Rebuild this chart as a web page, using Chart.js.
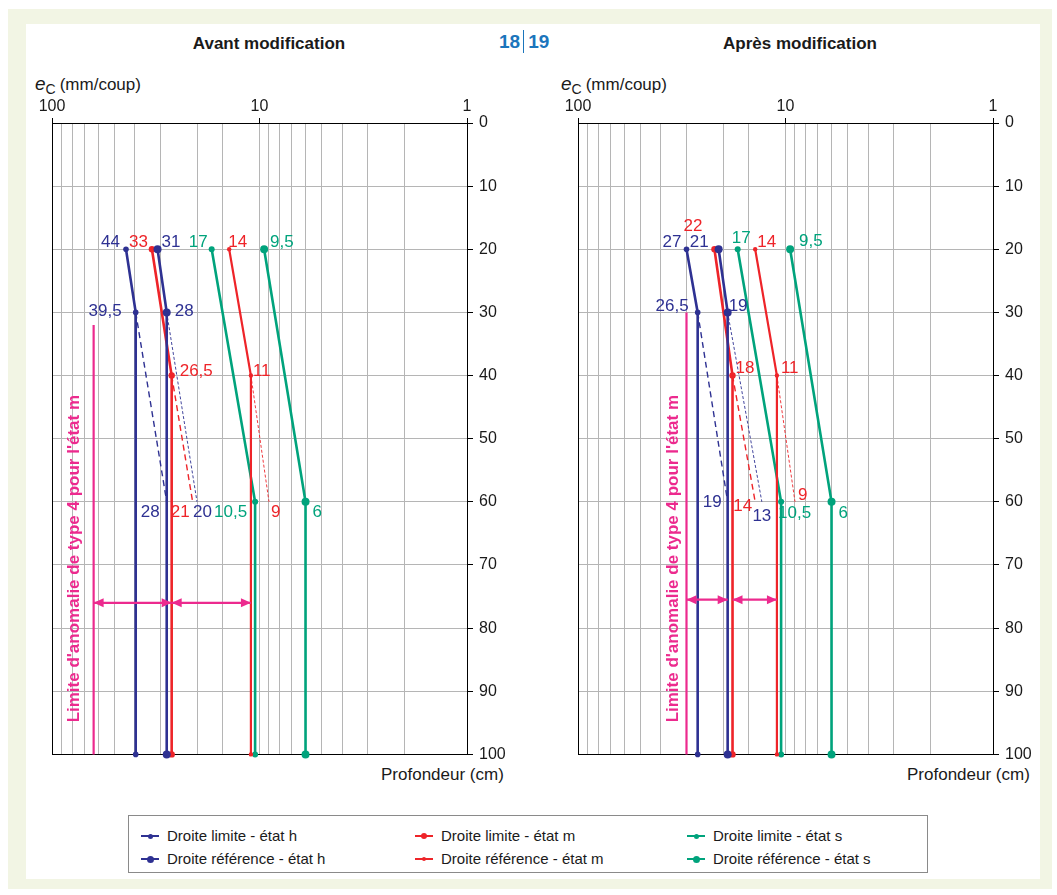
<!DOCTYPE html>
<html lang="fr">
<head>
<meta charset="utf-8">
<title>Avant / Après modification</title>
<script src="https://cdn.jsdelivr.net/npm/chart.js@4.4.1/dist/chart.umd.min.js"></script>
<style>
  body { margin: 0; width: 1057px; height: 895px; background: #fff; position: relative; overflow: hidden;
         font-family: "Liberation Sans", Arial, sans-serif; color: #1a1a1a; }
  #frame { position: absolute; left: 8px; top: 9px; width: 1044px; height: 880px; background: #f2f5e4; }
  #panel { position: absolute; left: 26px; top: 24px; width: 1014px; height: 855px; background: #fff; }
  .abs { position: absolute; white-space: nowrap; }
  .title { font-weight: bold; font-size: 17px; width: 260px; text-align: center; top: 34px; line-height: 20px; }
  .pages { left: 499px; top: 30px; font-weight: bold; font-size: 19px; color: #1b75bc; line-height: 20px; }
  .pages span.bar { display: inline-block; width: 1px; height: 23px; background: #1b75bc; vertical-align: -5px; margin: 0 4px 0 3px; }
  .unit { font-size: 17px; line-height: 20px; }
  .unit i { font-size: 19px; }
  .unit sub { font-size: 14px; vertical-align: -4px; margin-right: 4px; }
  canvas { position: absolute; }
  #legend { position: absolute; left: 128px; top: 815px; width: 798px; height: 56px; border: 1px solid #8a8a8a; background: #fff; }
  .item { position: absolute; font-size: 15px; line-height: 16px; }
  .mark { position: absolute; left: 0; top: 7px; width: 18px; height: 2px; }
  .dot { position: absolute; border-radius: 50%; }
  .item .txt { position: absolute; left: 26px; top: 0; white-space: nowrap; }
</style>
</head>
<body>
<div id="frame"></div>
<div id="panel"></div>

<div class="abs title" style="left:139px">Avant modification</div>
<div class="abs title" style="left:670px">Après modification</div>
<div class="abs pages">18<span class="bar"></span>19</div>

<div class="abs unit" style="left:35px; top:74px"><i>e</i><sub>C</sub>(mm/coup)</div>
<div class="abs unit" style="left:561px; top:74px"><i>e</i><sub>C</sub>(mm/coup)</div>
<div class="abs unit" style="left:381px; top:765px">Profondeur (cm)</div>
<div class="abs unit" style="left:907px; top:765px">Profondeur (cm)</div>

<canvas id="avant" width="510" height="683" style="left:12px; top:87px"></canvas>
<canvas id="apres" width="510" height="683" style="left:538px; top:87px"></canvas>

<div id="legend"></div>

<script>
// depths (cm) for each kind of line
const depthsH = [20, 30, 100];
const depthsM = [20, 40, 100];
const depthsS = [20, 60, 100];
const extDepthsH = [30, 60];
const extDepthsM = [40, 60];

// Avant modification (e_c in mm/coup)
const avantHLimite = [44, 39.5, 39.5];
const avantHReference = [31, 28, 28];
const avantMLimite = [33, 26.5, 26.5];
const avantMReference = [14, 11, 11];
const avantSLimite = [17, 10.5, 10.5];
const avantSReference = [9.5, 6, 6];
const avantHLimiteExt = [39.5, 28];
const avantHReferenceExt = [28, 20];
const avantMLimiteExt = [26.5, 21];
const avantMReferenceExt = [11, 9];
const avantLimite4 = 63;
const avantLimite4Depths = [32, 100];
const avantArrows = [[63, 26.5], [26.5, 11]];
const avantArrowDepth = 76;

// Après modification
const apresHLimite = [30, 26.5, 26.5];
const apresHReference = [21, 19, 19];
const apresMLimite = [22, 18, 18];
const apresMReference = [14, 11, 11];
const apresSLimite = [17, 10.5, 10.5];
const apresSReference = [9.5, 6, 6];
const apresHLimiteExt = [26.5, 19];
const apresHReferenceExt = [19, 13];
const apresMLimiteExt = [18, 14];
const apresMReferenceExt = [11, 9];
const apresLimite4 = 30;
const apresLimite4Depths = [30, 100];
const apresArrows = [[30, 19], [18, 11]];
const apresArrowDepth = 75.5;

// value annotations: text, value, depth
const avantLabels = [
  ['44', 44, 20], ['33', 33, 20], ['31', 31, 20], ['17', 17, 20], ['14', 14, 20], ['9,5', 9.5, 20],
  ['39,5', 39.5, 30], ['28', 28, 30], ['26,5', 26.5, 40], ['11', 11, 40],
  ['28', 28, 60], ['21', 21, 60], ['20', 20, 60], ['10,5', 10.5, 60], ['9', 9, 60], ['6', 6, 60]
];
const apresLabels = [
  ['27', 30, 20], ['22', 22, 20], ['21', 21, 20], ['17', 17, 20], ['14', 14, 20], ['9,5', 9.5, 20],
  ['26,5', 26.5, 30], ['19', 19, 30], ['18', 18, 40], ['11', 11, 40],
  ['19', 19, 60], ['14', 14, 60], ['13', 13, 60], ['9', 9, 60], ['10,5', 10.5, 60], ['6', 6, 60]
];

const limiteText = "Limite d'anomalie de type 4 pour l'état m";

// styles
const BLUE = '#2e3192', RED = '#ee2429', GREEN = '#00a37c', MAGENTA = '#ec2a8e';
const FONT = '"Liberation Sans", Arial, sans-serif';

// label placement: series colour, align, dx, dy (same order as label arrays)
const avantLabelStyle = [
  [BLUE, 'right', -6, -7], [RED, 'right', -4, -7], [BLUE, 'left', 4, -7], [GREEN, 'right', -4, -7], [RED, 'left', -1, -7], [GREEN, 'left', 6, -7],
  [BLUE, 'right', -14, -1], [BLUE, 'left', 8, -1], [RED, 'left', 8, -4], [RED, 'left', 2, -4],
  [BLUE, 'right', -7, 10], [RED, 'right', -3, 10], [BLUE, 'left', -4, 10], [GREEN, 'right', -8, 10], [RED, 'left', 2, 10], [GREEN, 'left', 7, 10]
];
const apresLabelStyle = [
  [BLUE, 'right', -5, -7], [RED, 'right', -12, -23], [BLUE, 'right', -10, -7], [GREEN, 'left', -6, -11], [RED, 'left', 2, -7], [GREEN, 'left', 9, -8],
  [BLUE, 'right', -9, -6], [BLUE, 'left', 1, -6], [RED, 'left', 3, -7], [RED, 'left', 4, -7],
  [BLUE, 'right', -6, 0], [RED, 'right', -3, 4], [BLUE, 'center', 0, 14], [RED, 'left', 3, -7], [GREEN, 'left', -3, 11], [GREEN, 'left', 7, 11]
];

const legendItems = [
  ['Droite limite - état h', BLUE, 2.5], ['Droite limite - état m', RED, 3], ['Droite limite - état s', GREEN, 2.5],
  ['Droite référence - état h', BLUE, 3.5], ['Droite référence - état m', RED, 2], ['Droite référence - état s', GREEN, 3.5]
];

function pts(values, depths) {
  return values.map((v, i) => ({ x: v, y: depths[i] }));
}

function solid(values, depths, color, radius, width) {
  return {
    data: pts(values, depths), borderColor: color, backgroundColor: color,
    borderWidth: width || 2.6, pointRadius: radius, pointBackgroundColor: color,
    pointBorderWidth: 0, clip: false
  };
}

function dashed(values, depths, color, thin) {
  return {
    data: pts(values, depths), borderColor: color, borderWidth: thin ? 0.9 : 1.4,
    borderDash: thin ? [3, 2] : [6, 4], pointRadius: 0, clip: false
  };
}

function arrow(pair, depth) {
  return {
    data: pts(pair, [depth, depth]), borderColor: MAGENTA, borderWidth: 2.2,
    pointRadius: 0, arrow: true
  };
}

function isMajor(v) {
  const l = Math.log10(v);
  return Math.abs(l - Math.round(l)) < 1e-9;
}

// plot frame on all four sides
const framePlugin = {
  id: 'frame',
  beforeDatasetsDraw(chart) {
    const a = chart.chartArea, ctx = chart.ctx;
    ctx.save();
    ctx.strokeStyle = '#000';
    ctx.lineWidth = 1;
    ctx.strokeRect(Math.round(a.left) + 0.5, Math.round(a.top) + 0.5, Math.round(a.right - a.left), Math.round(a.bottom - a.top));
    ctx.restore();
  }
};

function drawHead(ctx, tip, from) {
  const ang = Math.atan2(tip.y - from.y, tip.x - from.x);
  const len = 10, half = 4.5;
  const bx = tip.x - len * Math.cos(ang), by = tip.y - len * Math.sin(ang);
  ctx.beginPath();
  ctx.moveTo(tip.x, tip.y);
  ctx.lineTo(bx + half * Math.sin(ang), by - half * Math.cos(ang));
  ctx.lineTo(bx - half * Math.sin(ang), by + half * Math.cos(ang));
  ctx.closePath();
  ctx.fill();
}

const annotationPlugin = {
  id: 'annotations',
  afterDatasetsDraw(chart, args, opts) {
    const ctx = chart.ctx, xs = chart.scales.x, ys = chart.scales.y;
    ctx.save();

    // arrow heads
    ctx.fillStyle = MAGENTA;
    chart.data.datasets.forEach((ds, i) => {
      if (!ds.arrow) return;
      const p = chart.getDatasetMeta(i).data;
      drawHead(ctx, p[0], p[1]);
      drawHead(ctx, p[1], p[0]);
    });

    // rotated magenta text
    ctx.font = 'bold 17px ' + FONT;
    ctx.textAlign = 'center';
    ctx.textBaseline = 'middle';
    ctx.translate(xs.getPixelForValue(opts.limitValue) + opts.textDx, ys.getPixelForValue(opts.textDepth));
    ctx.rotate(-Math.PI / 2);
    ctx.fillText(limiteText, 0, 0);
    ctx.setTransform(1, 0, 0, 1, 0, 0);

    // value labels
    ctx.font = '17px ' + FONT;
    opts.labels.forEach((l, i) => {
      const [color, align, dx, dy] = opts.styles[i];
      ctx.fillStyle = color;
      ctx.textAlign = align;
      ctx.fillText(l[0], xs.getPixelForValue(l[1]) + dx, ys.getPixelForValue(l[2]) + dy);
    });
    ctx.restore();
  }
};

function makeChart(id, datasets, annotations) {
  new Chart(document.getElementById(id), {
    type: 'line',
    data: { datasets: datasets },
    options: {
      responsive: false,
      animation: false,
      layout: { padding: { left: 40, right: 0, top: 0, bottom: 12 } },
      elements: { line: { tension: 0 } },
      plugins: {
        legend: { display: false },
        tooltip: { enabled: false },
        annotations: annotations
      },
      scales: {
        x: {
          type: 'logarithmic', position: 'top', reverse: true, min: 1, max: 100,
          afterFit(s) { s.height = 36; },
          border: { color: '#000', width: 1 },
          grid: {
            color: '#b5b5b5', lineWidth: 1, tickLength: 5,
            tickColor: c => (c.tick && isMajor(c.tick.value)) ? '#000' : 'rgba(0,0,0,0)'
          },
          ticks: {
            autoSkip: false, maxRotation: 0, padding: 2, color: '#1a1a1a',
            font: { size: 16, family: FONT },
            callback: v => isMajor(v) ? String(Math.round(v)) : ''
          }
        },
        y: {
          type: 'linear', position: 'right', reverse: true, min: 0, max: 100,
          afterFit(s) { s.width = 55; },
          border: { color: '#000', width: 1 },
          grid: { color: '#b5b5b5', lineWidth: 1, tickLength: 6, tickColor: '#000' },
          ticks: { stepSize: 10, padding: 6, color: '#1a1a1a', font: { size: 16, family: FONT } }
        }
      }
    },
    plugins: [framePlugin, annotationPlugin]
  });
}

makeChart('avant', [
  dashed(avantHLimiteExt, extDepthsH, BLUE, false),
  dashed(avantHReferenceExt, extDepthsH, BLUE, true),
  dashed(avantMLimiteExt, extDepthsM, RED, false),
  dashed(avantMReferenceExt, extDepthsM, RED, true),
  solid([avantLimite4, avantLimite4], avantLimite4Depths, MAGENTA, 0, 2.2),
  arrow(avantArrows[0], avantArrowDepth),
  arrow(avantArrows[1], avantArrowDepth),
  solid(avantHLimite, depthsH, BLUE, 2.8),
  solid(avantHReference, depthsH, BLUE, 4),
  solid(avantMLimite, depthsM, RED, 3.2),
  solid(avantMReference, depthsM, RED, 2.2, 2.2),
  solid(avantSLimite, depthsS, GREEN, 3),
  solid(avantSReference, depthsS, GREEN, 4)
], { labels: avantLabels, styles: avantLabelStyle, limitValue: avantLimite4, textDx: -19, textDepth: 69 });

makeChart('apres', [
  dashed(apresHLimiteExt, extDepthsH, BLUE, false),
  dashed(apresHReferenceExt, extDepthsH, BLUE, true),
  dashed(apresMLimiteExt, extDepthsM, RED, false),
  dashed(apresMReferenceExt, extDepthsM, RED, true),
  solid([apresLimite4, apresLimite4], apresLimite4Depths, MAGENTA, 0, 2.2),
  arrow(apresArrows[0], apresArrowDepth),
  arrow(apresArrows[1], apresArrowDepth),
  solid(apresHLimite, depthsH, BLUE, 2.8),
  solid(apresHReference, depthsH, BLUE, 4),
  solid(apresMLimite, depthsM, RED, 3.2),
  solid(apresMReference, depthsM, RED, 2.2, 2.2),
  solid(apresSLimite, depthsS, GREEN, 3),
  solid(apresSReference, depthsS, GREEN, 4)
], { labels: apresLabels, styles: apresLabelStyle, limitValue: apresLimite4, textDx: -13, textDepth: 69 });

// legend, 3 columns x 2 rows
const legend = document.getElementById('legend');
const colLeft = [12, 286, 558];
const rowTop = [12, 35];
legendItems.forEach((it, i) => {
  const [name, color, r] = it;
  const div = document.createElement('div');
  div.className = 'item';
  div.style.left = colLeft[i % 3] + 'px';
  div.style.top = rowTop[Math.floor(i / 3)] + 'px';
  div.innerHTML = `
    <span class="mark" style="background:${color}"></span>
    <span class="dot" style="background:${color}; width:${2 * r}px; height:${2 * r}px; left:${9 - r}px; top:${8 - r}px"></span>
    <span class="txt">${name}</span>`;
  legend.appendChild(div);
});
</script>
</body>
</html>
